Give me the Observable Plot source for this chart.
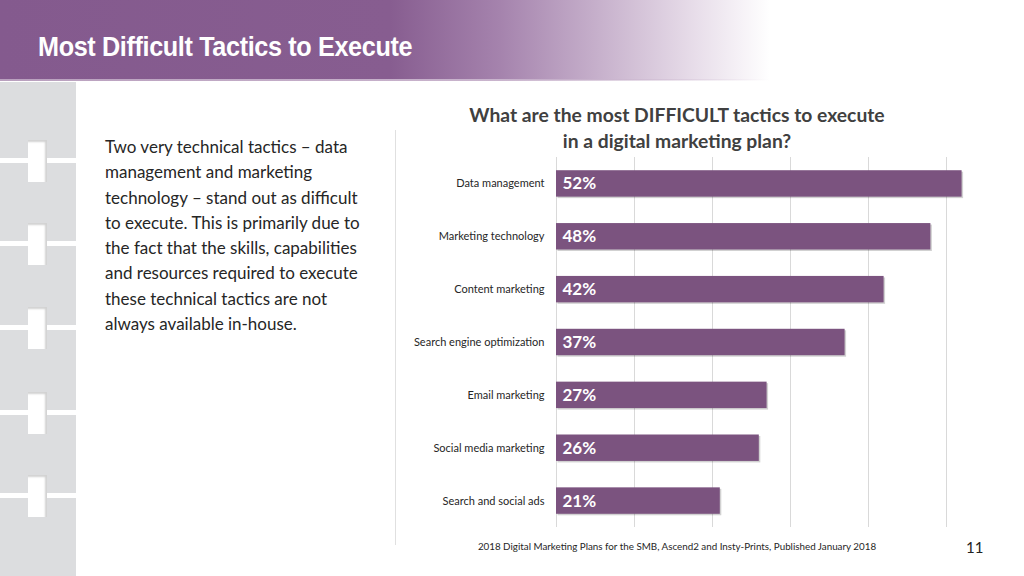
<!DOCTYPE html>
<html>
<head>
<meta charset="utf-8">
<script src="https://cdn.jsdelivr.net/npm/d3@7"></script>
<script src="https://cdn.jsdelivr.net/npm/@observablehq/plot@0.6"></script>
<style>
  html, body { margin: 0; padding: 0; background: #fff; }
  #slide { position: relative; width: 1024px; height: 576px; overflow: hidden; background: #fff; font-family: Lato, "Open Sans", sans-serif; }
  #banner { position: absolute; left: 0; top: 0; width: 1024px; height: 80px;
    background: linear-gradient(to right, #845a8e 0px, #875d90 390px, #a583ad 500px, #c7b1cc 600px, #e6dbe8 690px, #ffffff 770px); }
  #bannerline { position: absolute; left: 0; top: 79px; width: 770px; height: 2px;
    background: linear-gradient(to right, #b9a0be 0px, #c9b4cd 500px, rgba(255,255,255,0) 770px); }
  #title { position: absolute; left: 38px; top: 31px; color: #fff; font-family: "Liberation Sans", Arial, sans-serif;
    font-weight: bold; font-size: 28px; letter-spacing: -0.4px; white-space: nowrap; transform: scaleX(0.9); transform-origin: left top; }
  #sidebar { position: absolute; left: 0; top: 82px; width: 76px; height: 494px; background: #dcdddf; }
  .gap { position: absolute; left: 0; width: 76px; height: 5px; background: #fff; }
  .slot { position: absolute; left: 28px; width: 19px; height: 42px; background: #fff;
    box-shadow: inset -2px 2px 2px rgba(0,0,0,0.18); }
  #para { position: absolute; left: 105px; top: 134px; width: 272px; font-family: Lato, "Open Sans", sans-serif; font-size: 17px; line-height: 25.3px; color: #262626; }
  #divider { position: absolute; left: 395px; top: 130px; width: 1px; height: 415px; background: #e0e0e0; }
  #ctitle { position: absolute; left: 377px; width: 600px; top: 102px; text-align: center; font-family: Lato, "Open Sans", sans-serif; font-weight: bold; font-size: 19.3px; line-height: 26px; color: #404040; }
  #chart { position: absolute; left: 0; top: 150px; }
  #source { position: absolute; left: 377px; width: 600px; top: 540px; text-align: center; font-family: Lato, "Open Sans", sans-serif; font-size: 9.8px; color: #262626; }
  #page { position: absolute; left: 966px; top: 538px; font-family: Lato, "Open Sans", sans-serif; font-size: 15px; color: #222; }
</style>
</head>
<body>
<div id="slide">
  <div id="banner"></div>
  <div id="bannerline"></div>
  <div id="title">Most Difficult Tactics to Execute</div>
  <div id="sidebar"></div>
  <div id="para">Two very technical tactics – data management and marketing technology – stand out as difficult to execute. This is primarily due to the fact that the skills, capabilities and resources required to execute these technical tactics are not always available in-house.</div>
  <div id="divider"></div>
  <div id="ctitle">What are the most DIFFICULT tactics to execute<br>in a digital marketing plan?</div>
  <div id="chart"></div>
  <div id="source">2018 Digital Marketing Plans for the SMB, Ascend2 and Insty-Prints, Published January 2018</div>
  <div id="page">11</div>
</div>
<script>
const tactics = ["Data management", "Marketing technology", "Content marketing", "Search engine optimization", "Email marketing", "Social media marketing", "Search and social ads"];
const percents = [52, 48, 42, 37, 27, 26, 21];
const gridTicks = [0, 10, 20, 30, 40, 50, 60];

// sidebar decoration
const sidebar = document.getElementById("sidebar");
const gapYs = [160, 243, 327, 412, 495];
for (const gy of gapYs) {
  const g = document.createElement("div"); g.className = "gap"; g.style.top = (gy - 82 - 2) + "px"; sidebar.appendChild(g);
  const s = document.createElement("div"); s.className = "slot"; s.style.top = (gy - 82 - 20) + "px"; sidebar.appendChild(s);
}

const data = tactics.map((t, i) => ({tactic: t, value: percents[i]}));

const chart = Plot.plot({
  width: 1024,
  height: 390,
  marginLeft: 556,
  marginRight: 0,
  marginTop: 7,
  marginBottom: 13,
  style: {background: "transparent", fontFamily: "Lato, 'Open Sans', sans-serif"},
  x: {domain: [0, 60], axis: null},
  y: {domain: tactics, paddingInner: 0.5, paddingOuter: 0.25, round: false, label: null},
  marks: [
    Plot.ruleX(gridTicks, {stroke: "#d9d9d9", strokeWidth: 1}),
    Plot.barX(data, {x: "value", y: "tactic", fill: "#000", fillOpacity: 0.18, dx: 1.5, dy: 1.5}),
    Plot.barX(data, {x: "value", y: "tactic", fill: "#7b537f"}),
    Plot.text(data, {x: 0, y: "tactic", text: d => d.value + "%", textAnchor: "start", dx: 6, fill: "#fff", fontWeight: "bold", fontSize: 17}),
    Plot.axisY({tickSize: 0, tickPadding: 12, fontSize: 11, label: null, color: "#262626"})
  ]
});
document.getElementById("chart").appendChild(chart);
</script>
</body>
</html>
